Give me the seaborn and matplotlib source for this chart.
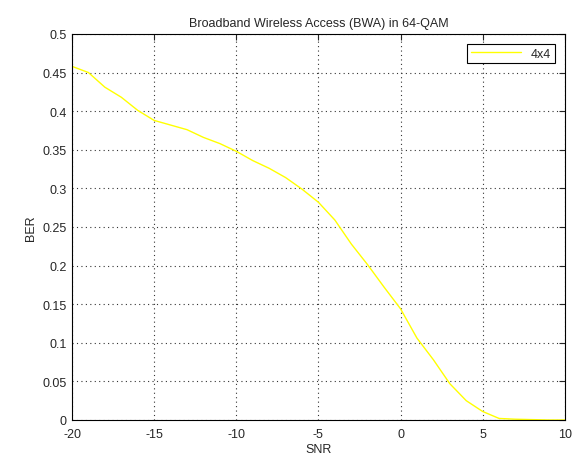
import pandas as pd
import seaborn as sns
import matplotlib.pyplot as plt

# Data
snr = [-20, -19, -18, -17, -16, -15, -14, -13, -12, -11, -10,
       -9, -8, -7, -6, -5, -4, -3, -2, -1, 0,
       1, 2, 3, 4, 5, 6, 7, 8, 9, 10]
ber = [0.458, 0.450, 0.431, 0.418, 0.401, 0.388, 0.382, 0.376, 0.366, 0.358, 0.348,
       0.336, 0.326, 0.314, 0.299, 0.282, 0.259, 0.228, 0.201, 0.172, 0.144,
       0.106, 0.078, 0.047, 0.025, 0.011, 0.002, 0.001, 0.0005, 0.0, 0.0]
xticks = [-20, -15, -10, -5, 0, 5, 10]
yticks = [0, 0.05, 0.1, 0.15, 0.2, 0.25, 0.3, 0.35, 0.4, 0.45, 0.5]

df = pd.DataFrame({'SNR': snr, 'BER': ber, 'series': '4x4'})

sns.set_style('white')
plt.rcParams['font.family'] = ['Liberation Sans', 'DejaVu Sans']
plt.rcParams['font.size'] = 9

fig = plt.figure(figsize=(5.73, 4.64), dpi=100)
ax = fig.add_axes([0.1257, 0.0927, 0.86, 0.832])

sns.lineplot(data=df, x='SNR', y='BER', hue='series', palette=['#ffff00'],
             linewidth=1, ax=ax)

ax.set_xlim(-20, 10)
ax.set_ylim(0, 0.5)
ax.set_xticks(xticks)
ax.set_yticks(yticks)
ax.set_xticklabels([str(t) for t in xticks])
ax.set_yticklabels(['0', '0.05', '0.1', '0.15', '0.2', '0.25', '0.3', '0.35', '0.4', '0.45', '0.5'])
ax.grid(True, linestyle=(0, (1, 3)), color='#333333', linewidth=0.8)
ax.tick_params(direction='in', top=True, right=True, length=4, labelsize=9)
ax.tick_params(axis='x', pad=6)
ax.tick_params(axis='y', pad=4)
for s in ax.spines.values():
    s.set_color('black')
    s.set_linewidth(0.8)

ax.set_title('Broadband Wireless Access (BWA) in 64-QAM', fontsize=9)
ax.set_xlabel('SNR', fontsize=9, labelpad=2)
ax.set_ylabel('BER', fontsize=9)

leg = ax.legend(loc='upper right', fancybox=False, framealpha=1, edgecolor='black',
                handlelength=4, fontsize=9, borderaxespad=0.8, borderpad=0.3)
leg.get_frame().set_linewidth(0.8)

fig.savefig('out.png', dpi=100)
